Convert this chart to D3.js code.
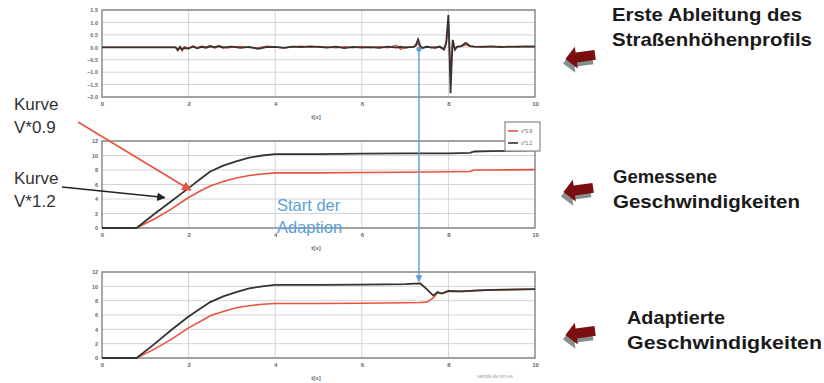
<!DOCTYPE html>
<html>
<head>
<meta charset="utf-8">
<script src="https://cdn.jsdelivr.net/npm/d3@7"></script>
<style>
  body { margin: 0; background: #fff; }
  svg { display: block; font-family: "Liberation Sans", Arial, sans-serif; }
</style>
</head>
<body>
<div id="chart"></div>
<script>
var w = 824;
var h = 383;

// erste Ableitung des Straßenhöhenprofils
var tDeriv = [0, 1.7, 1.75, 1.8, 1.85, 1.9, 2.0, 2.1, 2.2, 2.3, 2.4, 2.5, 2.6, 2.7, 2.8, 2.9, 3.0, 3.2, 3.4, 3.6, 3.8,
              4.0, 4.2, 4.4, 4.6, 4.8, 5.0, 5.2, 5.4, 5.6, 5.8, 6.0, 6.2, 6.4, 6.6, 6.8, 6.9, 7.0, 7.1, 7.2, 7.25,
              7.3, 7.35, 7.4, 7.5, 7.6, 7.7, 7.8, 7.9, 7.95, 8.0, 8.02, 8.05, 8.08, 8.1, 8.15, 8.2, 8.3, 8.4, 8.5,
              8.6, 8.8, 9.0, 9.2, 9.4, 9.6, 9.8, 10.0];
var derivRed = [0, 0, -0.1, -0.02, -0.15, 0.02, -0.04, 0.05, -0.02, 0.04, 0.01, 0.06, -0.03, 0.04, 0.02, -0.03, 0.01,
                0.03, -0.01, -0.03, 0.04, 0.01, -0.03, 0.02, 0.04, 0.0, 0.03, 0.01, -0.02, 0.02, -0.02, 0.03, -0.01,
                0.02, -0.02, 0.08, -0.08, 0.03, 0.0, 0.02, 0.06, 0.15, 0.02, -0.02, 0.03, -0.02, 0.02, 0.0, -0.1,
                0.15, 0.9, 0.1, -1.2, -0.3, 0.2, -0.05, 0.03, 0.04, 0.1, 0.04, 0.02, 0.03, 0.02, 0.03, 0.01, 0.04,
                0.02, 0.03];
var derivBlack = [0, 0, -0.12, 0.02, -0.08, -0.03, -0.05, 0.03, -0.04, 0.02, -0.02, 0.04, 0.01, 0.05, -0.02, 0.02,
                  0.03, -0.02, 0.02, -0.06, 0.01, 0.02, -0.02, 0.03, 0.01, 0.04, 0.02, -0.01, 0.03, -0.03, 0.02,
                  -0.01, 0.01, -0.02, 0.03, -0.01, 0.02, -0.02, 0.01, 0.02, 0.1, 0.32, 0.05, -0.03, 0.02, 0.0,
                  -0.02, 0.03, -0.08, 0.2, 1.3, 0.2, -1.85, -0.4, 0.3, -0.1, 0.02, 0.05, 0.18, 0.05, 0.03, 0.02,
                  0.04, 0.01, 0.03, 0.02, 0.04, 0.03];

// gemessene Geschwindigkeiten
var tMeas = [0, 0.8, 1.2, 1.6, 2.0, 2.3, 2.5, 2.8, 3.1, 3.4, 3.7, 4.0, 5.0, 6.0, 7.0, 8.0, 8.5, 8.6, 9.0, 10.0];
var measRed = [0, 0, 1.2, 2.6, 4.2, 5.2, 5.8, 6.4, 6.9, 7.25, 7.45, 7.6, 7.6, 7.65, 7.7, 7.75, 7.8, 8.0, 8.0, 8.05];
var measBlack = [0, 0, 1.9, 3.7, 5.5, 6.9, 7.8, 8.6, 9.2, 9.7, 10.0, 10.2, 10.2, 10.25, 10.3, 10.3, 10.35, 10.55, 10.6, 10.7];

// adaptierte Geschwindigkeiten
var tAdapt = [0, 0.8, 1.2, 1.6, 2.0, 2.3, 2.5, 2.8, 3.1, 3.4, 3.7, 4.0, 5.0, 6.0, 7.0, 7.35, 7.5, 7.65, 7.75, 7.85,
              8.0, 8.3, 8.6, 9.0, 10.0];
var adaptRed = [0, 0, 1.2, 2.6, 4.2, 5.2, 5.9, 6.5, 7.0, 7.3, 7.5, 7.6, 7.6, 7.65, 7.7, 7.75, 7.8, 8.4, 9.1, 9.0,
                9.3, 9.3, 9.4, 9.5, 9.6];
var adaptBlack = [0, 0, 1.9, 3.9, 5.8, 7.0, 7.8, 8.6, 9.2, 9.7, 10.0, 10.2, 10.2, 10.25, 10.3, 10.4, 9.6, 8.7, 9.2,
                  9.0, 9.35, 9.3, 9.4, 9.5, 9.6];

var xTicks = [0, 2, 4, 6, 8, 10];
var derivTicks = [-2, -1.5, -1, -0.5, 0, 0.5, 1, 1.5];
var speedTicks = [0, 2, 4, 6, 8, 10, 12];
var legendLabels = ["v*0.9", "v*1.2"];
var adaptStart = 7.32;

var red = "#e8533f";
var black = "#333";
var blue = "#5a9fdc";

var svg = d3.select("#chart")
            .append("svg")
            .attr("width", w)
            .attr("height", h);

var x = d3.scaleLinear().domain([0, 10]).range([102, 535]);

function panel(top, bottom, yDomain, yTicks, tArr, redArr, blackArr) {
    var y = d3.scaleLinear().domain(yDomain).range([bottom, top]);
    var g = svg.append("g");

    g.selectAll("line.hgrid")
        .data(yTicks)
        .enter()
        .append("line")
        .attr("x1", x(0)).attr("x2", x(10))
        .attr("y1", function(d) { return y(d); })
        .attr("y2", function(d) { return y(d); })
        .attr("stroke", "#d4d4d4")
        .attr("stroke-width", 1);

    g.selectAll("line.vgrid")
        .data([2, 4, 6, 8])
        .enter()
        .append("line")
        .attr("x1", function(d) { return x(d); })
        .attr("x2", function(d) { return x(d); })
        .attr("y1", top).attr("y2", bottom)
        .attr("stroke", "#d4d4d4")
        .attr("stroke-width", 1);

    g.append("rect")
        .attr("x", x(0)).attr("y", top)
        .attr("width", x(10) - x(0)).attr("height", bottom - top)
        .attr("fill", "none")
        .attr("stroke", "#8a8a8a")
        .attr("stroke-width", 1.5);

    var xAxis = d3.axisBottom(x).tickValues(xTicks).tickSize(0).tickPadding(5);
    g.append("g")
        .attr("transform", "translate(0," + bottom + ")")
        .call(xAxis)
        .call(function(a) { a.select(".domain").remove(); })
        .selectAll("text")
        .attr("font-size", 6)
        .attr("font-weight", "bold")
        .attr("fill", "#666");

    var yAxis = d3.axisLeft(y).tickValues(yTicks).tickSize(0).tickPadding(4);
    g.append("g")
        .attr("transform", "translate(" + x(0) + ",0)")
        .call(yAxis)
        .call(function(a) { a.select(".domain").remove(); })
        .selectAll("text")
        .attr("font-size", 5.5)
        .attr("font-weight", "bold")
        .attr("fill", "#666");

    g.append("text")
        .attr("x", 316).attr("y", bottom + 22)
        .attr("text-anchor", "middle")
        .attr("font-size", 6)
        .attr("font-weight", "bold")
        .attr("fill", "#666")
        .text("t[s]");

    var line = d3.line()
        .x(function(d) { return x(d[0]); })
        .y(function(d) { return y(d[1]); });

    g.append("path")
        .datum(d3.zip(tArr, redArr))
        .attr("fill", "none")
        .attr("stroke", red)
        .attr("stroke-width", 1.6)
        .attr("d", line);

    g.append("path")
        .datum(d3.zip(tArr, blackArr))
        .attr("fill", "none")
        .attr("stroke", black)
        .attr("stroke-width", 1.8)
        .attr("d", line);

    return y;
}

var yDeriv = panel(10, 97, [-2, 1.5], derivTicks, tDeriv, derivRed, derivBlack);
var yMeas = panel(141, 228, [0, 12], speedTicks, tMeas, measRed, measBlack);
var yAdapt = panel(272, 358, [0, 12], speedTicks, tAdapt, adaptRed, adaptBlack);

// legend of the middle panel
var leg = svg.append("g").attr("transform", "translate(505,122)");
leg.append("rect")
    .attr("width", 35).attr("height", 29)
    .attr("fill", "#fff")
    .attr("stroke", "#8a8a8a")
    .attr("stroke-width", 1.2);
leg.selectAll("g.item")
    .data(legendLabels)
    .enter()
    .append("g")
    .attr("transform", function(d, i) { return "translate(3," + (9 + i * 12) + ")"; })
    .each(function(d, i) {
        var it = d3.select(this);
        it.append("line")
            .attr("x1", 0).attr("x2", 10)
            .attr("stroke", i === 0 ? red : black)
            .attr("stroke-width", 1.6);
        it.append("text")
            .attr("x", 13).attr("y", 2)
            .attr("font-size", 5)
            .attr("fill", "#666")
            .text(d);
    });

// small footer text
svg.append("text")
    .attr("x", 495).attr("y", 378)
    .attr("text-anchor", "middle")
    .attr("font-size", 4.5)
    .attr("fill", "#999")
    .text("sample.de.mm.es");

// blue marker: start of adaption
var defs = svg.append("defs");
defs.append("marker")
    .attr("id", "blueHead")
    .attr("viewBox", "0 0 10 10")
    .attr("refX", 9).attr("refY", 5)
    .attr("markerWidth", 5).attr("markerHeight", 5)
    .attr("orient", "auto")
    .append("path")
    .attr("d", "M0,0L10,5L0,10z")
    .attr("fill", blue);
defs.append("marker")
    .attr("id", "darkHead")
    .attr("viewBox", "0 0 10 10")
    .attr("refX", 9).attr("refY", 5)
    .attr("markerWidth", 6).attr("markerHeight", 6)
    .attr("orient", "auto")
    .append("path")
    .attr("d", "M0,0L10,5L0,10z")
    .attr("fill", "#222");
defs.append("marker")
    .attr("id", "redHead")
    .attr("viewBox", "0 0 10 10")
    .attr("refX", 9).attr("refY", 5)
    .attr("markerWidth", 6).attr("markerHeight", 6)
    .attr("orient", "auto")
    .append("path")
    .attr("d", "M0,0L10,5L0,10z")
    .attr("fill", red);

svg.append("line")
    .attr("x1", x(adaptStart)).attr("x2", x(adaptStart))
    .attr("y1", yDeriv(0)).attr("y2", yAdapt(10.4) - 2)
    .attr("stroke", blue)
    .attr("stroke-width", 1.4)
    .attr("marker-end", "url(#blueHead)");
svg.append("circle")
    .attr("cx", x(adaptStart)).attr("cy", yDeriv(0) + 2)
    .attr("r", 2.5)
    .attr("fill", blue);

svg.append("text")
    .attr("x", 277).attr("y", 211)
    .attr("font-size", 16.5)
    .attr("fill", blue)
    .text("Start der");
svg.append("text")
    .attr("x", 277).attr("y", 233)
    .attr("font-size", 16.5)
    .attr("fill", blue)
    .text("Adaption");

// Kurve labels with pointers
var kurve = [["Kurve", "V*0.9", 110], ["Kurve", "V*1.2", 184]];
kurve.forEach(function(k) {
    svg.append("text").attr("x", 14).attr("y", k[2])
        .attr("font-size", 17).attr("fill", "#333").text(k[0]);
    svg.append("text").attr("x", 14).attr("y", k[2] + 23)
        .attr("font-size", 17).attr("fill", "#333").text(k[1]);
});
svg.append("line")
    .attr("x1", 78).attr("y1", 122)
    .attr("x2", x(2.05)).attr("y2", yMeas(5.2))
    .attr("stroke", red).attr("stroke-width", 1.6)
    .attr("marker-end", "url(#redHead)");
svg.append("line")
    .attr("x1", 62).attr("y1", 187)
    .attr("x2", x(1.45)).attr("y2", yMeas(4.2))
    .attr("stroke", "#222").attr("stroke-width", 1.4)
    .attr("marker-end", "url(#darkHead)");

// right side labels with dark red arrows
var sideLabels = [
    { lines: ["Erste Ableitung des", "Straßenhöhenprofils"], widths: [190, 200], tx: 612, ty: 21, ax: 580, ay: 55 },
    { lines: ["Gemessene", "Geschwindigkeiten"], widths: [104, 187], tx: 613, ty: 183, ax: 578, ay: 188 },
    { lines: ["Adaptierte", "Geschwindigkeiten"], widths: [98, 195], tx: 627, ty: 324, ax: 580, ay: 331 }
];

sideLabels.forEach(function(s) {
    var a = svg.append("g").attr("transform", "translate(" + s.ax + "," + s.ay + ") rotate(-8)");
    a.append("path")
        .attr("d", "M-15,2 L-4,-9 L-4,-3 L15,-3 L15,7 L-4,7 L-4,13 Z")
        .attr("fill", "#5d6b6a")
        .attr("opacity", 0.75)
        .attr("transform", "translate(-3,4)");
    a.append("path")
        .attr("d", "M-15,2 L-4,-9 L-4,-3 L15,-3 L15,7 L-4,7 L-4,13 Z")
        .attr("fill", "#7a0e10");
    s.lines.forEach(function(t, i) {
        svg.append("text")
            .attr("x", s.tx).attr("y", s.ty + i * 25)
            .attr("font-size", 19)
            .attr("font-weight", "bold")
            .attr("fill", "#1a1a1a")
            .attr("textLength", s.widths[i])
            .attr("lengthAdjust", "spacingAndGlyphs")
            .text(t);
    });
});
</script>
</body>
</html>
